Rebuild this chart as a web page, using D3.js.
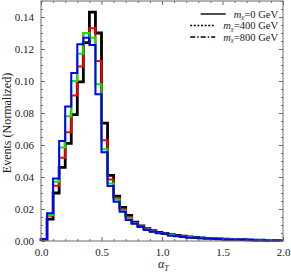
<!DOCTYPE html>
<html>
<head>
<meta charset="utf-8">
<script src="https://cdn.jsdelivr.net/npm/d3@7"></script>
<style>
  body { margin: 0; background: #fff; }
  text { font-family: "Liberation Serif", "DejaVu Serif", serif; fill: #222; }
</style>
</head>
<body>
<div id="chart"></div>
<script>
// bins are 0.05 wide from 0 to 2
const binWidth = 0.05;

const black = [0.0008, 0.0137, 0.030, 0.046, 0.061, 0.079, 0.0995, 0.124, 0.143, 0.130,
  0.0737, 0.041, 0.028, 0.021, 0.0160, 0.0118, 0.0094, 0.0077, 0.0064, 0.0054,
  0.0047, 0.0040, 0.0035, 0.0030, 0.0026, 0.0022, 0.0019, 0.0017, 0.0015, 0.0013,
  0.0011, 0.0010, 0.0009, 0.0008, 0.0007, 0.0006, 0.0005, 0.0004, 0.0004, 0.0003];
const red = [0.0009, 0.0158, 0.0346, 0.052, 0.068, 0.091, 0.109, 0.130, 0.133, 0.1125,
  0.063, 0.0385, 0.027, 0.0198, 0.0150, 0.0112, 0.0090, 0.0074, 0.0061, 0.0052,
  0.0045, 0.0038, 0.0033, 0.0028, 0.0024, 0.0021, 0.0018, 0.0016, 0.0014, 0.0012,
  0.0011, 0.0009, 0.0008, 0.0007, 0.0006, 0.0005, 0.0005, 0.0004, 0.0003, 0.0003];
const green = [0.0010, 0.0162, 0.037, 0.0585, 0.078, 0.100, 0.117, 0.130, 0.127, 0.098,
  0.0573, 0.036, 0.026, 0.019, 0.0140, 0.0110, 0.0089, 0.0072, 0.0060, 0.0050,
  0.0045, 0.0037, 0.0032, 0.0027, 0.0023, 0.0020, 0.0018, 0.0016, 0.0014, 0.0012,
  0.0010, 0.0009, 0.0008, 0.0007, 0.0006, 0.0005, 0.0004, 0.0004, 0.0003, 0.0003];
const blue = [0.0012, 0.0173, 0.039, 0.0625, 0.084, 0.105, 0.123, 0.127, 0.1225, 0.0917,
  0.0554, 0.0344, 0.0246, 0.0183, 0.0132, 0.0108, 0.0088, 0.0069, 0.0058, 0.0048,
  0.0044, 0.0033, 0.0030, 0.0025, 0.0021, 0.0018, 0.0017, 0.0015, 0.0013, 0.0012,
  0.0010, 0.0009, 0.0008, 0.0007, 0.0006, 0.0005, 0.0004, 0.0003, 0.0003, 0.0002];

const series = [
  {values: black, colour: '#000', width: 2.8},
  {values: red, colour: '#ff0000', width: 2},
  {values: green, colour: '#00ee00', width: 2},
  {values: blue, colour: '#0000ff', width: 2}
];

const legendLabels = ['0', '400', '800'];
const legendDashes = [null, '2,1.6', '5,2,1.5,2'];

const xTicks = [0, 0.5, 1, 1.5, 2];
const yTicks = [0, 0.02, 0.04, 0.06, 0.08, 0.10, 0.12, 0.14];

const width = 291;
const height = 276;
const margin = {top: 1, right: 8, bottom: 35, left: 41};

const svg = d3.select('#chart').append('svg')
    .attr('width', width)
    .attr('height', height);

const x = d3.scaleLinear()
    .domain([0, 2])
    .range([margin.left, width - margin.right]);

const y = d3.scaleLinear()
    .domain([0, 0.15])
    .range([height - margin.bottom, margin.top]);

const frameColour = '#6a6a6a';

// HISTOGRAMS

const line = d3.line()
    .x(d => x(d[0]))
    .y(d => y(d[1]))
    .curve(d3.curveStepAfter);

series.forEach(s => {
  const pts = [[0, 0]];
  s.values.forEach((v, i) => pts.push([i * binWidth, v]));
  pts.push([s.values.length * binWidth, s.values[s.values.length - 1]]);
  svg.append('path')
      .attr('d', line(pts))
      .attr('fill', 'none')
      .attr('stroke', s.colour)
      .attr('stroke-width', s.width)
      .attr('stroke-linejoin', 'miter');
});

// FRAME AND TICKS

const minorX = d3.range(0, 2.001, 0.1).filter(v => !xTicks.some(t => Math.abs(t - v) < 1e-6));
const minorY = d3.range(0, 0.1501, 0.005).filter(v => !yTicks.some(t => Math.abs(t - v) < 1e-6));

function drawAxis(axisFn, scale, ticks, minor, transform, labels) {
  const g = svg.append('g').attr('transform', transform);
  g.call(axisFn(scale).tickValues(minor).tickSize(-2).tickFormat(''));
  const g2 = svg.append('g').attr('transform', transform);
  g2.call(axisFn(scale).tickValues(ticks).tickSize(-4).tickPadding(labels ? 7 : 0)
      .tickFormat(labels ? labels : ''));
  [g, g2].forEach(a => {
    a.select('.domain').remove();
    a.selectAll('line').attr('stroke', frameColour);
    a.selectAll('text').style('font-size', '11px').attr('fill', '#222');
  });
}

drawAxis(d3.axisBottom, x, xTicks, minorX, `translate(0,${y(0)})`, d3.format('.1f'));
drawAxis(d3.axisTop, x, xTicks, minorX, `translate(0,${y(0.15)})`, null);
drawAxis(d3.axisLeft, y, yTicks, minorY, `translate(${x(0)},0)`, d3.format('.2f'));
drawAxis(d3.axisRight, y, yTicks, minorY, `translate(${x(2)},0)`, null);

svg.append('rect')
    .attr('x', x(0))
    .attr('y', y(0.15))
    .attr('width', x(2) - x(0))
    .attr('height', y(0) - y(0.15))
    .attr('fill', 'none')
    .attr('stroke', frameColour)
    .attr('stroke-width', 1);

// AXIS LABELS

svg.append('text')
    .attr('transform', `translate(11,${(y(0) + y(0.15)) / 2 + 2}) rotate(-90)`)
    .attr('text-anchor', 'middle')
    .style('font-size', '12px')
    .text('Events (Normalized)');

const xl = svg.append('text')
    .attr('x', x(1) - 4)
    .attr('y', 268)
    .style('font-size', '12px');
xl.append('tspan').style('font-style', 'italic').text('α');
xl.append('tspan').attr('dy', 3).style('font-size', '8px').style('font-style', 'italic').text('T');

// LEGEND

const legend = svg.append('g');
legendLabels.forEach((lab, i) => {
  const ly = 14 + i * 11.5;
  const t = legend.append('text')
      .attr('x', 278)
      .attr('y', ly + 3.5)
      .attr('text-anchor', 'end')
      .style('font-size', '10.5px');
  t.append('tspan').style('font-style', 'italic').text('m');
  t.append('tspan').attr('dy', 1.5).style('font-size', '7px').style('font-style', 'italic').text('χ');
  t.append('tspan').attr('dy', -1.5).text('=' + lab + ' GeV');
  const tw = t.node().getComputedTextLength();
  const x1 = 278 - tw - 8;
  legend.append('line')
      .attr('x1', x1 - 25)
      .attr('x2', x1)
      .attr('y1', ly)
      .attr('y2', ly)
      .attr('stroke', '#000')
      .attr('stroke-width', 1.4)
      .attr('stroke-dasharray', legendDashes[i]);
});
</script>
</body>
</html>
